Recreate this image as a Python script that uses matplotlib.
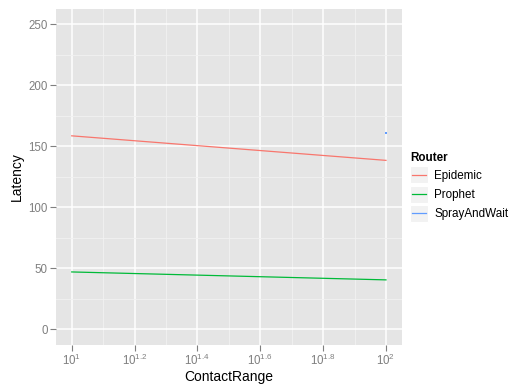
import matplotlib
matplotlib.use("Agg")
import matplotlib.pyplot as plt
from matplotlib.legend_handler import HandlerBase
from matplotlib.patches import Rectangle
from matplotlib.lines import Line2D
from matplotlib.ticker import FixedLocator, FixedFormatter, NullFormatter

plt.rcParams['font.family'] = ['Liberation Sans', 'DejaVu Sans']
plt.rcParams['mathtext.fontset'] = 'custom'
plt.rcParams['mathtext.rm'] = 'Liberation Sans'
plt.rcParams['mathtext.it'] = 'Liberation Sans'

routers = ["Epidemic", "Prophet", "SprayAndWait"]
colors = ["#F8766D", "#00BA38", "#619CFF"]
contact_range = {
    "Epidemic": [10, 100],
    "Prophet": [10, 100],
    "SprayAndWait": [100],
}
latency = {
    "Epidemic": [158.6, 138.5],
    "Prophet": [47.1, 40.6],
    "SprayAndWait": [161.0],
}
x_tick_exps = [1.0, 1.2, 1.4, 1.6, 1.8, 2.0]
x_tick_labels = ["$10^{1}$", "$10^{1.2}$", "$10^{1.4}$", "$10^{1.6}$", "$10^{1.8}$", "$10^{2}$"]
y_ticks = [0, 50, 100, 150, 200, 250]

fig = plt.figure(figsize=(5.15, 3.87), dpi=100)
ax = fig.add_axes([56/515, 1-344.7/387, (401.7-56)/515, (344.7-9)/387])
ax.set_facecolor("#E5E5E5")
for s in ax.spines.values():
    s.set_visible(False)

ax.set_xscale("log")
ax.set_xlim(10**0.95, 10**2.05)
ax.set_ylim(-12.5, 262.5)

xt = [10**e for e in x_tick_exps]
ax.xaxis.set_major_locator(FixedLocator(xt))
ax.xaxis.set_major_formatter(FixedFormatter(x_tick_labels))
xminor = [10**((x_tick_exps[i]+x_tick_exps[i+1])/2) for i in range(len(x_tick_exps)-1)]
ax.xaxis.set_minor_locator(FixedLocator(xminor))
ax.xaxis.set_minor_formatter(NullFormatter())
ax.yaxis.set_major_locator(FixedLocator(y_ticks))
ax.yaxis.set_minor_locator(FixedLocator([(y_ticks[i]+y_ticks[i+1])/2 for i in range(len(y_ticks)-1)]))

ax.grid(which="major", color="white", linewidth=1.1)
ax.grid(which="minor", color="#F2F2F2", linewidth=0.6)
ax.set_axisbelow(True)
ax.tick_params(which="major", direction="out", length=4, width=0.8, color="#7F7F7F",
               labelcolor="#7F7F7F", labelsize=8.3, pad=2)
ax.tick_params(which="minor", length=0)

for r, c in zip(routers, colors):
    xs, ys = contact_range[r], latency[r]
    if len(xs) > 1:
        ax.plot(xs, ys, color=c, linewidth=0.9, label=r)
    else:
        ax.plot(xs, ys, color=c, linewidth=0.9, marker="s", markersize=2,
                markeredgewidth=0, label=r)

ax.set_xlabel("ContactRange", fontsize=10, labelpad=1)
ax.set_ylabel("Latency", fontsize=10, labelpad=3)


class KeyHandler(HandlerBase):
    def create_artists(self, legend, orig_handle, xdescent, ydescent, width, height, fontsize, trans):
        rect = Rectangle((-xdescent, -ydescent), width, height, facecolor="#F2F2F2",
                         edgecolor="white", linewidth=0.8, transform=trans)
        y = -ydescent + height/2
        ln = Line2D([-xdescent + 0.1*width, -xdescent + 0.9*width], [y, y],
                    color=orig_handle.get_color(), linewidth=0.9, transform=trans)
        return [rect, ln]


handles = [Line2D([], [], color=c) for c in colors]
leg = ax.legend(handles, routers, handler_map={Line2D: KeyHandler()},
                loc="center left", bbox_to_anchor=(1.005, 0.47), frameon=False,
                fontsize=8.4, title="Router", title_fontproperties={"weight": "bold", "size": 8.4},
                handlelength=1.5, handleheight=1.85, labelspacing=0.2, handletextpad=0.55,
                borderaxespad=0.2, alignment="left")

fig.savefig("out.png", dpi=100)
